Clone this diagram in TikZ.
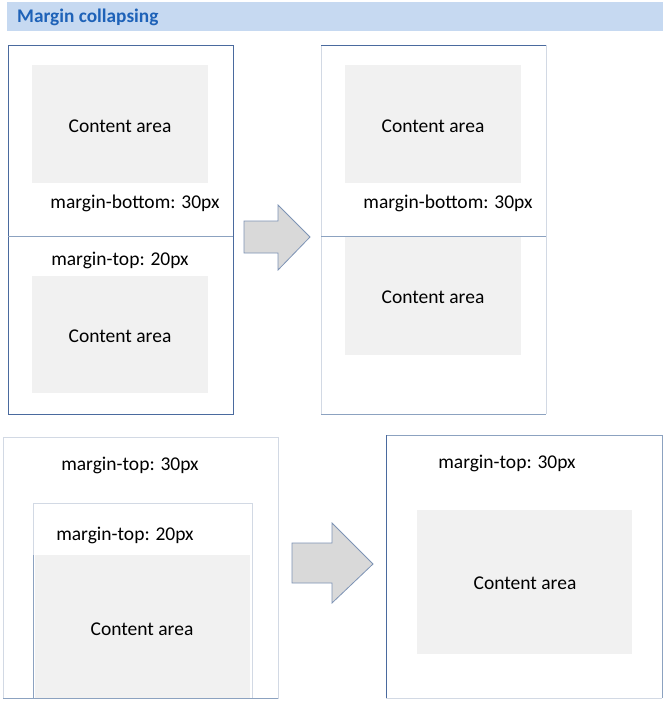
\documentclass[tikz,border=0pt]{standalone}
\usepackage{fontspec}
\setmainfont{Carlito}
\definecolor{band}{HTML}{C6D9F1}
\definecolor{titleblue}{HTML}{1E62B8}
\definecolor{darkedge}{HTML}{4A6A9E}
\definecolor{midedge}{HTML}{8CA2C0}
\definecolor{lightedge}{HTML}{D2D9E4}
\definecolor{contentgrey}{HTML}{F1F1F1}
\definecolor{arrowgrey}{HTML}{D9D9D9}
\definecolor{arrowedge}{HTML}{7D93B5}
\tikzset{
  lbl/.style={font=\fontsize{19.5}{22}\selectfont, inner sep=0pt},
  content/.style={fill=contentgrey, draw=none},
  blockarrow/.style={fill=arrowgrey, draw=arrowedge, line width=0.8pt, line join=miter},
}
\begin{document}
\begin{tikzpicture}[x=1pt,y=-1pt]
\useasboundingbox (0,0) rectangle (668,707);
\fill[white] (0,0) rectangle (668,707);
% header
\fill[band] (7,2) rectangle (663,31);
\node[anchor=west, inner sep=0pt, text=titleblue, font=\fontsize{19.3}{22}\selectfont\bfseries] (title) at (17,17) {Margin collapsing};

% ---- top-left box
\fill[content] (32,65) rectangle (208,183);
\fill[content] (32,276) rectangle (208,393);
\draw[darkedge, line width=1pt] (8,45) rectangle (233,414);
\draw[midedge, line width=0.8pt] (8,236) -- (233,236);
\node[lbl] (tl1) at (120,126) {Content area};
\node[lbl] (tlmb) at (135,203) {margin-bottom: 30px};
\node[lbl] (tlmt) at (120,260) {margin-top: 20px};
\node[lbl] (tl2) at (120,336) {Content area};

% arrow 1
\draw[blockarrow] (244,221) -- (278,221) -- (278,205) -- (310,237) -- (278,270) -- (278,253) -- (244,253) -- cycle;

% ---- top-right box
\fill[content] (345,65) rectangle (521,183);
\fill[content] (345,237) rectangle (521,355);
\draw[lightedge, line width=0.8pt] (321,45) -- (321,414);
\draw[lightedge, line width=0.8pt] (546,45) -- (546,414);
\draw[darkedge, line width=0.8pt] (321,45) -- (546,45);
\draw[midedge, line width=0.8pt] (321,414) -- (546,414);
\draw[midedge, line width=0.8pt] (321,236) -- (546,236);
\node[lbl] (tr1) at (433,126) {Content area};
\node[lbl] (trmb) at (448,203) {margin-bottom: 30px};
\node[lbl] (tr2) at (433,297) {Content area};

% ---- bottom-left
\draw[lightedge, line width=0.8pt] (3,437) rectangle (278,698);
\draw[midedge, line width=0.6pt] (3,698) -- (278,698);
\fill[white] (33,503) rectangle (252,698);
\fill[content] (35,555) rectangle (250,698);
\draw[lightedge, line width=0.8pt] (33,698) -- (33,503) -- (252,503) -- (252,698);
\draw[midedge, line width=0.7pt] (33,555) -- (33,698);
\node[lbl] (blmt30) at (130,465) {margin-top: 30px};
\node[lbl] (blmt20) at (125,535) {margin-top: 20px};
\node[lbl] (bl1) at (142,629) {Content area};

% arrow 2
\draw[blockarrow] (292,543) -- (332,543) -- (332,523) -- (373,564) -- (332,603) -- (332,583) -- (292,583) -- cycle;

% ---- bottom-right
\fill[content] (417,510) rectangle (632,654);
\draw[lightedge, line width=0.8pt] (386,698) -- (662,698);
\draw[midedge, line width=0.8pt] (386,435) -- (662,435) -- (662,698);
\draw[darkedge, line width=1pt] (386,435) -- (386,698);
\node[lbl] (brmt) at (507,463) {margin-top: 30px};
\node[lbl] (br1) at (525,583) {Content area};
\end{tikzpicture}
\end{document}
